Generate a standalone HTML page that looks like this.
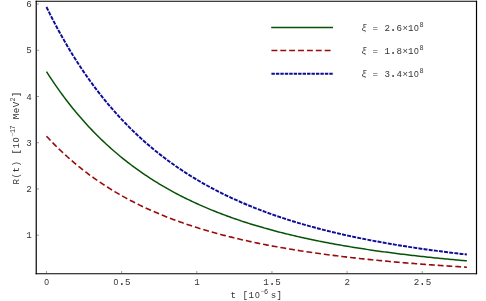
<!DOCTYPE html>
<html><head><meta charset="utf-8"><title>Plot</title>
<style>
html,body{margin:0;padding:0;background:#fff;}
body{width:486px;height:301px;overflow:hidden;}
svg{display:block;will-change:transform;opacity:0.999;}
svg text{font-family:"Liberation Mono",monospace;font-size:9.2px;fill:#343434;text-anchor:middle;}
svg .z{font-family:"Liberation Sans",sans-serif;font-size:8.5px;}
svg .s{font-size:6.8px;stroke:none;}
svg .p{font-size:12px;}
svg .m{fill:#7a7a7a;}
svg .xi{font-style:italic;font-size:9.7px;fill:#4a4a4a;}
</style></head><body>
<svg width="486" height="301" viewBox="0 0 486 301">
<rect width="486" height="301" fill="#fff"/>
<g stroke="#000" stroke-width="1.18" fill="none"><path d="M36.23,0.7200000000000001 V274.31"/><path d="M476.51,0.7200000000000001 V274.31"/><path d="M35.63999999999999,1.3 H477.09999999999997" stroke-width="1.05"/><path d="M35.63999999999999,273.72 H477.09999999999997"/></g>
<path d="M46.50,273.72 V270.97 M121.65,273.72 V270.97 M196.80,273.72 V270.97 M271.95,273.72 V270.97 M347.10,273.72 V270.97 M422.25,273.72 V270.97 M36.23,235.20 H39.03 M36.23,188.96 H39.03 M36.23,142.72 H39.03 M36.23,96.48 H39.03 M36.23,50.24 H39.03 M36.23,4.00 H39.03" stroke="#3a3a3a" stroke-width="0.5" fill="none"/>
<text><tspan x="46.65" y="285.00" class="z">0</tspan></text>
<text><tspan x="115.80" y="285.00" class="z">0</tspan><tspan x="121.80" y="285.00" class="p">.</tspan><tspan x="127.80" y="285.00">5</tspan></text>
<text><tspan x="196.95" y="285.00">1</tspan></text>
<text><tspan x="266.10" y="285.00">1</tspan><tspan x="272.10" y="285.00" class="p">.</tspan><tspan x="278.10" y="285.00">5</tspan></text>
<text><tspan x="347.25" y="285.00">2</tspan></text>
<text><tspan x="416.40" y="285.00">2</tspan><tspan x="422.40" y="285.00" class="p">.</tspan><tspan x="428.40" y="285.00">5</tspan></text>
<text><tspan x="29.00" y="238.45">1</tspan></text>
<text><tspan x="29.00" y="192.21">2</tspan></text>
<text><tspan x="29.00" y="145.97">3</tspan></text>
<text><tspan x="29.00" y="99.73">4</tspan></text>
<text><tspan x="29.00" y="53.49">5</tspan></text>
<text><tspan x="29.00" y="7.25">6</tspan></text>
<path d="M46.50,71.60 L48.26,74.34 L50.02,77.04 L51.78,79.69 L53.54,82.30 L55.29,84.87 L57.05,87.40 L58.81,89.88 L60.57,92.33 L62.33,94.74 L64.09,97.11 L65.85,99.44 L67.61,101.74 L69.37,103.99 L71.13,106.22 L72.88,108.41 L74.64,110.56 L76.40,112.68 L78.16,114.77 L79.92,116.83 L81.68,118.85 L83.44,120.85 L85.20,122.81 L86.96,124.74 L88.71,126.65 L90.47,128.52 L92.23,130.37 L93.99,132.19 L95.75,133.98 L97.51,135.75 L99.27,137.48 L101.03,139.20 L102.79,140.88 L104.55,142.55 L106.30,144.18 L108.06,145.80 L109.82,147.39 L111.58,148.96 L113.34,150.50 L115.10,152.02 L116.86,153.52 L118.62,155.00 L120.38,156.46 L122.13,157.89 L123.89,159.31 L125.65,160.70 L127.41,162.08 L129.17,163.43 L130.93,164.77 L132.69,166.09 L134.45,167.39 L136.21,168.67 L137.97,169.93 L139.72,171.18 L141.48,172.40 L143.24,173.61 L145.00,174.81 L146.76,175.99 L148.52,177.15 L150.28,178.29 L152.04,179.42 L153.80,180.54 L155.55,181.64 L157.31,182.72 L159.07,183.79 L160.83,184.85 L162.59,185.89 L164.35,186.91 L166.11,187.93 L167.87,188.93 L169.63,189.91 L171.39,190.89 L173.14,191.85 L174.90,192.79 L176.66,193.73 L178.42,194.65 L180.18,195.56 L181.94,196.46 L183.70,197.35 L185.46,198.22 L187.22,199.09 L188.97,199.94 L190.73,200.78 L192.49,201.61 L194.25,202.43 L196.01,203.24 L197.77,204.04 L199.53,204.83 L201.29,205.61 L203.05,206.38 L204.81,207.14 L206.56,207.89 L208.32,208.63 L210.08,209.36 L211.84,210.09 L213.60,210.80 L215.36,211.50 L217.12,212.20 L218.88,212.89 L220.64,213.56 L222.40,214.23 L224.15,214.90 L225.91,215.55 L227.67,216.20 L229.43,216.83 L231.19,217.46 L232.95,218.09 L234.71,218.70 L236.47,219.31 L238.23,219.91 L239.98,220.50 L241.74,221.09 L243.50,221.67 L245.26,222.24 L247.02,222.80 L248.78,223.36 L250.54,223.91 L252.30,224.46 L254.06,225.00 L255.82,225.53 L257.57,226.05 L259.33,226.57 L261.09,227.09 L262.85,227.59 L264.61,228.10 L266.37,228.59 L268.13,229.08 L269.89,229.57 L271.65,230.05 L273.40,230.52 L275.16,230.99 L276.92,231.45 L278.68,231.91 L280.44,232.36 L282.20,232.81 L283.96,233.25 L285.72,233.69 L287.48,234.12 L289.24,234.55 L290.99,234.97 L292.75,235.39 L294.51,235.80 L296.27,236.21 L298.03,236.61 L299.79,237.01 L301.55,237.40 L303.31,237.79 L305.07,238.18 L306.82,238.56 L308.58,238.94 L310.34,239.31 L312.10,239.68 L313.86,240.05 L315.62,240.41 L317.38,240.77 L319.14,241.12 L320.90,241.47 L322.66,241.82 L324.41,242.16 L326.17,242.50 L327.93,242.83 L329.69,243.16 L331.45,243.49 L333.21,243.81 L334.97,244.14 L336.73,244.45 L338.49,244.77 L340.24,245.08 L342.00,245.38 L343.76,245.69 L345.52,245.99 L347.28,246.29 L349.04,246.58 L350.80,246.87 L352.56,247.16 L354.32,247.45 L356.08,247.73 L357.83,248.01 L359.59,248.29 L361.35,248.56 L363.11,248.83 L364.87,249.10 L366.63,249.37 L368.39,249.63 L370.15,249.89 L371.91,250.15 L373.66,250.40 L375.42,250.65 L377.18,250.90 L378.94,251.15 L380.70,251.39 L382.46,251.64 L384.22,251.88 L385.98,252.11 L387.74,252.35 L389.50,252.58 L391.25,252.81 L393.01,253.04 L394.77,253.27 L396.53,253.49 L398.29,253.71 L400.05,253.93 L401.81,254.15 L403.57,254.36 L405.33,254.57 L407.08,254.78 L408.84,254.99 L410.60,255.20 L412.36,255.40 L414.12,255.61 L415.88,255.81 L417.64,256.01 L419.40,256.20 L421.16,256.40 L422.92,256.59 L424.67,256.78 L426.43,256.97 L428.19,257.16 L429.95,257.34 L431.71,257.53 L433.47,257.71 L435.23,257.89 L436.99,258.07 L438.75,258.25 L440.50,258.42 L442.26,258.60 L444.02,258.77 L445.78,258.94 L447.54,259.11 L449.30,259.27 L451.06,259.44 L452.82,259.60 L454.58,259.77 L456.34,259.93 L458.09,260.09 L459.85,260.24 L461.61,260.40 L463.37,260.56 L465.13,260.71 L466.89,260.86" stroke="#065206" stroke-width="1.5" fill="none"/>
<path d="M46.50,136.17 L48.26,138.07 L50.02,139.93 L51.78,141.77 L53.54,143.58 L55.29,145.35 L57.05,147.10 L58.81,148.82 L60.57,150.52 L62.33,152.19 L64.09,153.83 L65.85,155.44 L67.61,157.03 L69.37,158.59 L71.13,160.13 L72.88,161.65 L74.64,163.14 L76.40,164.61 L78.16,166.05 L79.92,167.48 L81.68,168.88 L83.44,170.26 L85.20,171.62 L86.96,172.96 L88.71,174.28 L90.47,175.57 L92.23,176.85 L93.99,178.11 L95.75,179.35 L97.51,180.57 L99.27,181.78 L101.03,182.96 L102.79,184.13 L104.55,185.28 L106.30,186.42 L108.06,187.53 L109.82,188.64 L111.58,189.72 L113.34,190.79 L115.10,191.84 L116.86,192.88 L118.62,193.90 L120.38,194.91 L122.13,195.91 L123.89,196.89 L125.65,197.85 L127.41,198.80 L129.17,199.74 L130.93,200.67 L132.69,201.58 L134.45,202.48 L136.21,203.37 L137.97,204.24 L139.72,205.10 L141.48,205.95 L143.24,206.79 L145.00,207.62 L146.76,208.43 L148.52,209.24 L150.28,210.03 L152.04,210.81 L153.80,211.58 L155.55,212.35 L157.31,213.10 L159.07,213.84 L160.83,214.57 L162.59,215.29 L164.35,216.00 L166.11,216.70 L167.87,217.39 L169.63,218.07 L171.39,218.75 L173.14,219.41 L174.90,220.07 L176.66,220.72 L178.42,221.36 L180.18,221.99 L181.94,222.61 L183.70,223.22 L185.46,223.83 L187.22,224.43 L188.97,225.02 L190.73,225.60 L192.49,226.18 L194.25,226.74 L196.01,227.30 L197.77,227.86 L199.53,228.40 L201.29,228.94 L203.05,229.48 L204.81,230.00 L206.56,230.52 L208.32,231.03 L210.08,231.54 L211.84,232.04 L213.60,232.53 L215.36,233.02 L217.12,233.50 L218.88,233.98 L220.64,234.45 L222.40,234.91 L224.15,235.37 L225.91,235.82 L227.67,236.27 L229.43,236.71 L231.19,237.15 L232.95,237.58 L234.71,238.01 L236.47,238.43 L238.23,238.84 L239.98,239.25 L241.74,239.66 L243.50,240.06 L245.26,240.45 L247.02,240.84 L248.78,241.23 L250.54,241.61 L252.30,241.99 L254.06,242.36 L255.82,242.73 L257.57,243.10 L259.33,243.46 L261.09,243.81 L262.85,244.16 L264.61,244.51 L266.37,244.85 L268.13,245.19 L269.89,245.53 L271.65,245.86 L273.40,246.19 L275.16,246.51 L276.92,246.83 L278.68,247.15 L280.44,247.46 L282.20,247.77 L283.96,248.08 L285.72,248.38 L287.48,248.68 L289.24,248.97 L290.99,249.27 L292.75,249.56 L294.51,249.84 L296.27,250.12 L298.03,250.40 L299.79,250.68 L301.55,250.95 L303.31,251.22 L305.07,251.49 L306.82,251.76 L308.58,252.02 L310.34,252.28 L312.10,252.53 L313.86,252.78 L315.62,253.03 L317.38,253.28 L319.14,253.53 L320.90,253.77 L322.66,254.01 L324.41,254.24 L326.17,254.48 L327.93,254.71 L329.69,254.94 L331.45,255.17 L333.21,255.39 L334.97,255.61 L336.73,255.83 L338.49,256.05 L340.24,256.27 L342.00,256.48 L343.76,256.69 L345.52,256.90 L347.28,257.10 L349.04,257.31 L350.80,257.51 L352.56,257.71 L354.32,257.91 L356.08,258.10 L357.83,258.30 L359.59,258.49 L361.35,258.68 L363.11,258.87 L364.87,259.05 L366.63,259.23 L368.39,259.42 L370.15,259.60 L371.91,259.78 L373.66,259.95 L375.42,260.13 L377.18,260.30 L378.94,260.47 L380.70,260.64 L382.46,260.81 L384.22,260.97 L385.98,261.14 L387.74,261.30 L389.50,261.46 L391.25,261.62 L393.01,261.78 L394.77,261.93 L396.53,262.09 L398.29,262.24 L400.05,262.39 L401.81,262.54 L403.57,262.69 L405.33,262.84 L407.08,262.99 L408.84,263.13 L410.60,263.27 L412.36,263.42 L414.12,263.56 L415.88,263.69 L417.64,263.83 L419.40,263.97 L421.16,264.10 L422.92,264.24 L424.67,264.37 L426.43,264.50 L428.19,264.63 L429.95,264.76 L431.71,264.89 L433.47,265.01 L435.23,265.14 L436.99,265.26 L438.75,265.38 L440.50,265.50 L442.26,265.62 L444.02,265.74 L445.78,265.86 L447.54,265.98 L449.30,266.09 L451.06,266.21 L452.82,266.32 L454.58,266.43 L456.34,266.55 L458.09,266.66 L459.85,266.77 L461.61,266.87 L463.37,266.98 L465.13,267.09 L466.89,267.19" stroke="#990a0a" stroke-width="1.6" fill="none" stroke-dasharray="5.85 2.95"/>
<path d="M46.50,7.04 L48.26,10.62 L50.02,14.15 L51.78,17.62 L53.54,21.03 L55.29,24.39 L57.05,27.69 L58.81,30.94 L60.57,34.14 L62.33,37.29 L64.09,40.39 L65.85,43.44 L67.61,46.44 L69.37,49.40 L71.13,52.30 L72.88,55.17 L74.64,57.98 L76.40,60.76 L78.16,63.49 L79.92,66.18 L81.68,68.83 L83.44,71.43 L85.20,74.00 L86.96,76.53 L88.71,79.02 L90.47,81.47 L92.23,83.89 L93.99,86.27 L95.75,88.61 L97.51,90.92 L99.27,93.19 L101.03,95.43 L102.79,97.64 L104.55,99.81 L106.30,101.95 L108.06,104.06 L109.82,106.14 L111.58,108.19 L113.34,110.21 L115.10,112.20 L116.86,114.16 L118.62,116.09 L120.38,118.00 L122.13,119.88 L123.89,121.73 L125.65,123.55 L127.41,125.35 L129.17,127.12 L130.93,128.87 L132.69,130.59 L134.45,132.29 L136.21,133.97 L137.97,135.62 L139.72,137.25 L141.48,138.85 L143.24,140.44 L145.00,142.00 L146.76,143.54 L148.52,145.06 L150.28,146.56 L152.04,148.03 L153.80,149.49 L155.55,150.93 L157.31,152.35 L159.07,153.74 L160.83,155.12 L162.59,156.49 L164.35,157.83 L166.11,159.15 L167.87,160.46 L169.63,161.75 L171.39,163.02 L173.14,164.28 L174.90,165.52 L176.66,166.74 L178.42,167.95 L180.18,169.14 L181.94,170.31 L183.70,171.47 L185.46,172.62 L187.22,173.75 L188.97,174.86 L190.73,175.96 L192.49,177.05 L194.25,178.12 L196.01,179.18 L197.77,180.23 L199.53,181.26 L201.29,182.28 L203.05,183.29 L204.81,184.28 L206.56,185.26 L208.32,186.23 L210.08,187.19 L211.84,188.13 L213.60,189.06 L215.36,189.98 L217.12,190.89 L218.88,191.79 L220.64,192.68 L222.40,193.56 L224.15,194.42 L225.91,195.28 L227.67,196.12 L229.43,196.95 L231.19,197.78 L232.95,198.59 L234.71,199.40 L236.47,200.19 L238.23,200.98 L239.98,201.75 L241.74,202.52 L243.50,203.27 L245.26,204.02 L247.02,204.76 L248.78,205.49 L250.54,206.21 L252.30,206.92 L254.06,207.63 L255.82,208.32 L257.57,209.01 L259.33,209.69 L261.09,210.36 L262.85,211.03 L264.61,211.68 L266.37,212.33 L268.13,212.97 L269.89,213.61 L271.65,214.23 L273.40,214.85 L275.16,215.46 L276.92,216.07 L278.68,216.67 L280.44,217.26 L282.20,217.84 L283.96,218.42 L285.72,218.99 L287.48,219.56 L289.24,220.12 L290.99,220.67 L292.75,221.21 L294.51,221.75 L296.27,222.29 L298.03,222.82 L299.79,223.34 L301.55,223.85 L303.31,224.36 L305.07,224.87 L306.82,225.37 L308.58,225.86 L310.34,226.35 L312.10,226.83 L313.86,227.31 L315.62,227.78 L317.38,228.25 L319.14,228.71 L320.90,229.17 L322.66,229.62 L324.41,230.07 L326.17,230.51 L327.93,230.95 L329.69,231.39 L331.45,231.81 L333.21,232.24 L334.97,232.66 L336.73,233.07 L338.49,233.48 L340.24,233.89 L342.00,234.29 L343.76,234.69 L345.52,235.08 L347.28,235.47 L349.04,235.86 L350.80,236.24 L352.56,236.62 L354.32,236.99 L356.08,237.36 L357.83,237.72 L359.59,238.09 L361.35,238.44 L363.11,238.80 L364.87,239.15 L366.63,239.50 L368.39,239.84 L370.15,240.18 L371.91,240.52 L373.66,240.85 L375.42,241.18 L377.18,241.51 L378.94,241.83 L380.70,242.15 L382.46,242.47 L384.22,242.78 L385.98,243.09 L387.74,243.40 L389.50,243.70 L391.25,244.00 L393.01,244.30 L394.77,244.60 L396.53,244.89 L398.29,245.18 L400.05,245.47 L401.81,245.75 L403.57,246.03 L405.33,246.31 L407.08,246.58 L408.84,246.86 L410.60,247.13 L412.36,247.39 L414.12,247.66 L415.88,247.92 L417.64,248.18 L419.40,248.44 L421.16,248.69 L422.92,248.94 L424.67,249.19 L426.43,249.44 L428.19,249.69 L429.95,249.93 L431.71,250.17 L433.47,250.41 L435.23,250.64 L436.99,250.88 L438.75,251.11 L440.50,251.34 L442.26,251.57 L444.02,251.79 L445.78,252.01 L447.54,252.23 L449.30,252.45 L451.06,252.67 L452.82,252.88 L454.58,253.10 L456.34,253.31 L458.09,253.52 L459.85,253.72 L461.61,253.93 L463.37,254.13 L465.13,254.33 L466.89,254.53" stroke="#0c0c98" stroke-width="1.95" fill="none" stroke-dasharray="3.95 1.226"/>
<path d="M271.2,27.45 H333" stroke="#065206" stroke-width="1.5" fill="none"/>
<path d="M271.45,50.5 H333" stroke="#990a0a" stroke-width="1.6" fill="none" stroke-dasharray="5.9 2.97"/>
<path d="M271.45,73.7 H333" stroke="#0c0c98" stroke-width="1.85" fill="none" stroke-dasharray="3.4 1.05"/>
<text><tspan x="364.05" y="30.55" class="xi">ξ</tspan><tspan x="375.15" y="30.80">=</tspan><tspan x="387.15" y="30.80">2</tspan><tspan x="393.15" y="30.80" class="p">.</tspan><tspan x="399.15" y="30.80">6</tspan><tspan x="405.15" y="30.80">×</tspan><tspan x="410.70" y="30.80">1</tspan><tspan x="416.35" y="30.80" class="z">0</tspan><tspan x="421.55" y="26.50" class="s">8</tspan></text>
<text><tspan x="364.05" y="53.55" class="xi">ξ</tspan><tspan x="375.15" y="53.80">=</tspan><tspan x="387.15" y="53.80">1</tspan><tspan x="393.15" y="53.80" class="p">.</tspan><tspan x="399.15" y="53.80">8</tspan><tspan x="405.15" y="53.80">×</tspan><tspan x="410.70" y="53.80">1</tspan><tspan x="416.35" y="53.80" class="z">0</tspan><tspan x="421.55" y="49.50" class="s">8</tspan></text>
<text><tspan x="364.05" y="76.75" class="xi">ξ</tspan><tspan x="375.15" y="77.00">=</tspan><tspan x="387.15" y="77.00">3</tspan><tspan x="393.15" y="77.00" class="p">.</tspan><tspan x="399.15" y="77.00">4</tspan><tspan x="405.15" y="77.00">×</tspan><tspan x="410.70" y="77.00">1</tspan><tspan x="416.35" y="77.00" class="z">0</tspan><tspan x="421.55" y="72.70" class="s">8</tspan></text>
<text><tspan x="233.25" y="297.85">t</tspan><tspan x="245.25" y="297.85">[</tspan><tspan x="251.25" y="297.85">1</tspan><tspan x="257.25" y="297.85" class="z">0</tspan><tspan x="262.38" y="293.85" class="s m">−</tspan><tspan x="266.02" y="293.85" class="s">6</tspan><tspan x="273.50" y="297.85">s</tspan><tspan x="279.20" y="297.85">]</tspan></text>
<text transform="translate(19.2,184.8) rotate(-90)"><tspan x="3.00" y="0.00">R</tspan><tspan x="9.00" y="0.00">(</tspan><tspan x="15.00" y="0.00">t</tspan><tspan x="21.00" y="0.00">)</tspan><tspan x="33.00" y="0.00">[</tspan><tspan x="39.00" y="0.00">1</tspan><tspan x="45.00" y="0.00" class="z">0</tspan><tspan x="50.12" y="-4.00" class="s m">−</tspan><tspan x="53.77" y="-4.00" class="s">1</tspan><tspan x="57.42" y="-4.00" class="s">7</tspan><tspan x="68.25" y="0.00">M</tspan><tspan x="74.25" y="0.00">e</tspan><tspan x="80.25" y="0.00">V</tspan><tspan x="85.38" y="-4.00" class="s">2</tspan><tspan x="90.40" y="0.00">]</tspan></text>
</svg>
</body></html>
